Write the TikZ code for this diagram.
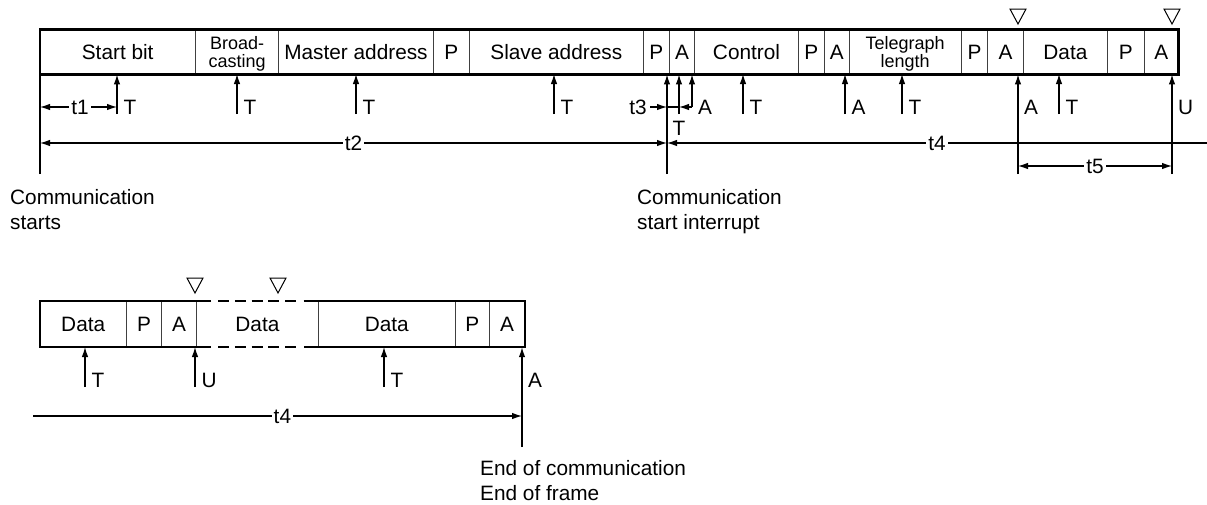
\documentclass[tikz,border=0pt]{standalone}
\usepackage{fontspec}
\setmainfont{Liberation Sans}
\usetikzlibrary{arrows.meta,positioning}
\tikzstyle{fcell}  = [rectangle, inner sep=0pt, minimum height=44.5pt,
                      align=center, text depth=0pt]
\tikzstyle{fsmall} = [font=\fontsize{18}{18}\selectfont]
\tikzstyle{fdiv}   = [draw=black!75, line width=1pt]
\tikzstyle{fframe} = [draw, line width=2.5pt]
\tikzstyle{farrow} = [-{Latex[length=10pt,width=6.5pt]}, line width=1.2pt]
\tikzstyle{fdim}   = [{Latex[length=10pt,width=6.5pt]}-{Latex[length=10pt,width=6.5pt]},
                      line width=1.1pt]
\tikzstyle{fdimr}  = [-{Latex[length=10pt,width=6.5pt]}, line width=1.1pt]
\tikzstyle{fdiml}  = [{Latex[length=10pt,width=6.5pt]}-, line width=1.1pt]
\tikzstyle{flbl}   = [anchor=base west, inner sep=0pt, xshift=6pt]
\tikzstyle{fdlbl}  = [fill=white, inner sep=2pt]
\tikzstyle{fnote}  = [anchor=north west, align=left, inner sep=0pt]
\tikzstyle{ftri}   = [line width=1pt, line join=miter]

\begin{document}
\begin{tikzpicture}[x=1pt, y=-1pt, font=\fontsize{20.8}{25}\selectfont]
\useasboundingbox (0,0) rectangle (1207,504);
% Frame, first part
\node[fcell, minimum width=155pt, anchor=west] (sb) at (40,52) {Start bit};
\node[fcell, fsmall, minimum width=83pt, right=0pt of sb] (bc) {Broad-\\casting};
\node[fcell, minimum width=154pt, right=0pt of bc] (ma) {Master address};
\node[fcell, minimum width=36pt, right=0pt of ma] (pa) {P};
\node[fcell, minimum width=173pt, right=0pt of pa] (sl) {Slave address};
\node[fcell, minimum width=26pt, right=0pt of sl] (pb) {P};
\node[fcell, minimum width=25pt, right=0pt of pb] (aa) {A};
\node[fcell, minimum width=103pt, right=0pt of aa] (co) {Control};
\node[fcell, minimum width=26pt, right=0pt of co] (pc) {P};
\node[fcell, minimum width=24pt, right=0pt of pc] (ab) {A};
\node[fcell, fsmall, minimum width=112pt, right=0pt of ab] (tl) {Telegraph\\length};
\node[fcell, minimum width=26pt, right=0pt of tl] (pd) {P};
\node[fcell, minimum width=35pt, right=0pt of pd] (ac) {A};
\node[fcell, minimum width=84pt, right=0pt of ac] (da) {Data};
\node[fcell, minimum width=36pt, right=0pt of da] (pe) {P};
\node[fcell, minimum width=34pt, right=0pt of pe] (ad) {A};
\foreach \c in {sb,bc,ma,pa,sl,pb,aa,co,pc,ab,tl,pd,ac,da,pe}
  \draw[fdiv] (\c.north east) -- (\c.south east);
\draw[fframe] (sb.north west) rectangle (ad.south east);

% Frame, continued
\node[fcell, minimum height=46pt, minimum width=86pt, anchor=west] (ea) at (40,324) {Data};
\node[fcell, minimum height=46pt, minimum width=35pt, right=0pt of ea] (eb) {P};
\node[fcell, minimum height=46pt, minimum width=34pt, right=0pt of eb] (ec) {A};
\node[fcell, minimum height=46pt, minimum width=122pt, right=0pt of ec] (ed) {Data};
\node[fcell, minimum height=46pt, minimum width=136pt, right=0pt of ed] (ee) {Data};
\node[fcell, minimum height=46pt, minimum width=34pt, right=0pt of ee] (ef) {P};
\node[fcell, minimum height=46pt, minimum width=35pt, right=0pt of ef] (eg) {A};
\foreach \c in {ea,eb,ec,ed,ee,ef}
  \draw[fdiv] (\c.north east) -- (\c.south east);
\draw[fframe] ([xshift=15pt]ed.north west) -- (ea.north west) -- (ea.south west)
  -- ([xshift=15pt]ed.south west);
\draw[fframe] ([xshift=-15pt]ed.north east) -- (eg.north east) -- (eg.south east)
  -- ([xshift=-15pt]ed.south east);
\draw[fframe, dash pattern=on 11pt off 5.75pt]
  ([xshift=22pt]ed.north west) -- ([xshift=-22pt]ed.north east);
\draw[fframe, dash pattern=on 11pt off 5.75pt]
  ([xshift=22pt]ed.south west) -- ([xshift=-22pt]ed.south east);

% Markers
\foreach \x/\y in {1018/24,1172/24,195/293,278/293}
  \draw[ftri] (\x,\y) -- ++(-8,-15) -- ++(16,0) -- cycle;

% Feet of the timing lines
\coordinate (c0) at (40,174);
\coordinate (ci) at (667,174);
\coordinate (ca) at (1018,174);
\coordinate (cu) at (1172,174);
\coordinate (ce) at (522,447);
\coordinate (m1) at (117,114);
\coordinate (m6) at (679,114);
\coordinate (m7) at (692,107);
\coordinate (y2) at (0,143);
\coordinate (y3) at (0,166);
\coordinate (r1end) at (1207,143);
\coordinate (r2start) at (33,416);

% Timing, first part
\draw[line width=1.1pt] (c0) -- (c0 |- sb.south);
\draw[farrow] (m1) node[flbl] (l1) {T} -- (m1 |- sb.south);
\draw[farrow] (237,114) node[flbl] (l2) {T} -- (237,74);
\draw[farrow] (356,114) node[flbl] (l3) {T} -- (356,74);
\draw[farrow] (554,114) node[flbl] (l4) {T} -- (554,74);
\draw[farrow] (ci) -- (ci |- sb.south);
\draw[farrow] (m6) -- (m6 |- sb.south);
\node[anchor=north, inner sep=0pt] (l6) at (679,120.5) {T};
\draw[farrow] (m7) -- (m7 |- sb.south);
\node[flbl] (l7) at (692,114) {A};
\draw[farrow] (743,114) node[flbl] (l8) {T} -- (743,74);
\draw[farrow] (845,114) node[flbl] (l9) {A} -- (845,74);
\draw[farrow] (902,114) node[flbl] (l10) {T} -- (902,74);
\draw[farrow] (ca) -- (ca |- sb.south);
\node[flbl] (l11) at (1018,114) {A};
\draw[farrow] (1059,114) node[flbl] (l12) {T} -- (1059,74);
\draw[farrow] (cu) -- (cu |- sb.south);
\node[flbl] (l13) at (1172,114) {U};

% Intervals
\draw[fdim] (c0 |- m7) -- node[fdlbl, pos=0.52] (t1) {t1} (m1 |- m7);
\node[anchor=east, inner sep=0pt] (t3) at (647,107) {t3};
\draw[fdimr] ([xshift=3pt]t3.east) -- (ci |- t3.east);
\draw[line width=1.1pt] (ci |- t3.east) -- (m6 |- t3.east);
\draw[fdimr] (m7 |- t3.east) -- (m6 |- t3.east);
\draw[fdim] (c0 |- y2) -- node[fdlbl] (t2) {t2} (ci |- y2);
\draw[fdiml] (ci |- y2) -- node[fdlbl] (t4a) {t4} (r1end);
\draw[fdim] (ca |- y3) -- node[fdlbl] (t5) {t5} (cu |- y3);

% Timing, continued
\draw[farrow] (85,387) node[flbl] (k1) {T} -- (85,347);
\draw[farrow] (195,387) node[flbl] (k2) {U} -- (195,347);
\draw[farrow] (384,387) node[flbl] (k3) {T} -- (384,347);
\draw[farrow] (ce) -- (ce |- eg.south);
\node[flbl] (k4) at (522,387) {A};
\draw[fdimr] (r2start) -- node[fdlbl, pos=0.51] (t4b) {t4} (ce |- r2start);

% Notes
\node[fnote] (n1) at (10,189.5) {Communication\\starts};
\node[fnote] (n2) at (637,189.5) {Communication\\start interrupt};
\node[fnote] (n3) at (480,460.5) {End of communication\\End of frame};
\end{tikzpicture}
\end{document}
